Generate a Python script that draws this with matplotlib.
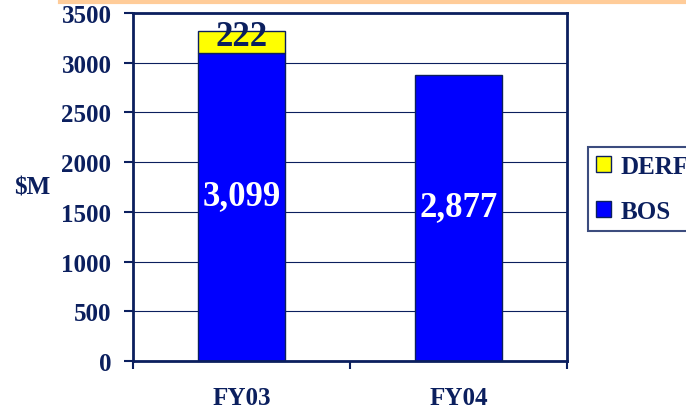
import matplotlib.pyplot as plt
import matplotlib.lines as mlines
import numpy as np

categories = ['FY03', 'FY04']
bos = [3099, 2877]
derf = [222, 0]
bos_labels = ['3,099', '2,877']
derf_labels = ['222', '']
yticks = [0, 500, 1000, 1500, 2000, 2500, 3000, 3500]

navy = '#0B1F5E'
plt.rcParams['font.family'] = ['Liberation Serif', 'DejaVu Serif']
plt.rcParams['font.weight'] = 'bold'

fig = plt.figure(figsize=(6.86, 4.14), dpi=100)
ax = fig.add_axes([133 / 686, 1 - 362 / 414, 434 / 686, 348 / 414])

ax.yaxis.grid(True, color=navy, linewidth=0.8)
ax.set_axisbelow(True)

x = np.arange(len(categories))
w = 0.4
b1 = ax.bar(x, bos, w, color='#0000FF', edgecolor=navy, linewidth=1, label='BOS')
b2 = ax.bar(x, derf, w, bottom=bos, color='#FFFF00', edgecolor=navy, linewidth=1, label='DERF')
# no yellow segment for FY04
for r, v in zip(b2, derf):
    if v == 0:
        r.set_visible(False)

for xi, v, lab in zip(x, bos, bos_labels):
    ax.annotate(lab, (xi, v / 2), xytext=(0, 8), textcoords='offset points',
                ha='center', va='center', color='white', fontsize=25, fontweight='bold')
for xi, b, v, lab in zip(x, bos, derf, derf_labels):
    if lab:
        ax.annotate(lab, (xi, b + v / 2), xytext=(0, 4), textcoords='offset points',
                    ha='center', va='center', color=navy, fontsize=25, fontweight='bold')

ax.set_xlim(-0.5, 1.5)
ax.set_ylim(0, 3500)
ax.set_yticks(yticks)
ax.set_xticks(x)
ax.set_xticklabels(categories)
ax.set_xticks([-0.5, 0.5, 1.5], minor=True)
ax.tick_params(axis='x', which='major', length=0, pad=18, labelsize=18, labelcolor=navy)
ax.tick_params(axis='x', which='minor', length=6, width=1.5, color=navy, direction='out')
ax.tick_params(axis='y', length=6.5, width=1.5, color=navy, labelsize=18, labelcolor=navy, pad=9)
for lab in ax.get_xticklabels() + ax.get_yticklabels():
    lab.set_fontweight('bold')
for s in ax.spines.values():
    s.set_color(navy)
    s.set_linewidth(2)

ax.set_ylabel('$M', rotation=0, fontsize=18, fontweight='bold', color=navy)
ax.yaxis.set_label_coords(-(133 - 32) / 434, (362 - 188) / 348)
ax.yaxis.label.set_verticalalignment('center')

handles = [b2, b1]
leg = fig.legend(handles, ['DERF', 'BOS'], loc='upper left',
                 bbox_to_anchor=(588 / 686, 1 - 148 / 414), frameon=True, fancybox=False,
                 prop={'size': 18, 'weight': 'bold'}, handlelength=0.6, handleheight=0.6,
                 handletextpad=0.4, borderpad=0.3, labelspacing=0.9, borderaxespad=0)
leg.get_frame().set_edgecolor(navy)
leg.get_frame().set_linewidth(1.5)
for t in leg.get_texts():
    t.set_color(navy)

fig.add_artist(mlines.Line2D([60 / 686, 1], [1 - 3 / 414, 1 - 3 / 414],
                             color='#FFCC99', linewidth=3, transform=fig.transFigure))

fig.savefig('out.png', dpi=100)
